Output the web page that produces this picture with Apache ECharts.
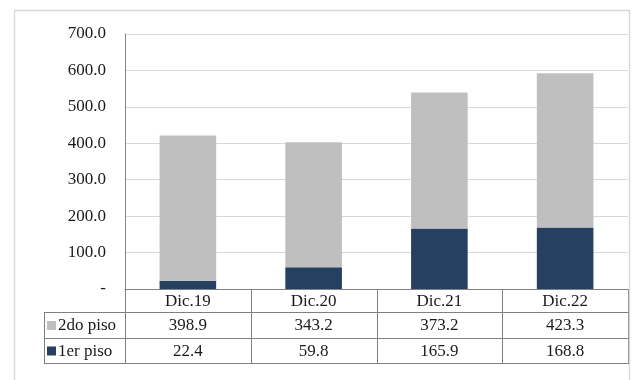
<!DOCTYPE html>
<html>
<head>
<meta charset="utf-8">
<script src="https://cdn.jsdelivr.net/npm/echarts@6/dist/echarts.min.js"></script>
<style>
  html, body { margin: 0; padding: 0; background: #fff; }
  #chart { width: 633px; height: 380px; }
</style>
</head>
<body>
<div id="chart"></div>
<script>
const categories = ['Dic.19', 'Dic.20', 'Dic.21', 'Dic.22']
const seriesNames = ['2do piso', '1er piso']
const segundoPiso = [398.9, 343.2, 373.2, 423.3]
const primerPiso = [22.4, 59.8, 165.9, 168.8]
const yMin = 0
const yMax = 700
const yStep = 100

const colors = { '2do piso': '#bfbfbf', '1er piso': '#254061' }
const tableRows = [
  { name: '2do piso', values: segundoPiso },
  { name: '1er piso', values: primerPiso }
]
const serifFont = 'Liberation Serif'

const chart = echarts.init(document.getElementById('chart'))

const option = {
  animation: false,
  textStyle: { fontFamily: serifFont },
  grid: { left: 125, right: 5, top: 34, bottom: 91, containLabel: false },
  xAxis: {
    type: 'category',
    data: categories,
    axisLine: { lineStyle: { color: '#808080', width: 1 } },
    axisTick: { show: false },
    axisLabel: { show: false }
  },
  yAxis: {
    type: 'value',
    min: yMin,
    max: yMax,
    interval: yStep,
    axisLine: { show: true, lineStyle: { color: '#868686', width: 1 } },
    axisTick: { show: false },
    splitLine: { lineStyle: { color: '#d9d9d9', width: 1 } },
    axisLabel: {
      margin: 19,
      fontFamily: serifFont,
      fontSize: 17,
      color: '#1a1a1a',
      formatter: v => (v === 0 ? '-' : v.toFixed(1))
    }
  },
  series: [
    {
      name: '1er piso',
      type: 'bar',
      stack: 'total',
      barWidth: '45%',
      data: primerPiso,
      itemStyle: { color: colors['1er piso'] }
    },
    {
      name: '2do piso',
      type: 'bar',
      stack: 'total',
      barWidth: '45%',
      data: segundoPiso,
      itemStyle: { color: colors['2do piso'] }
    }
  ]
}

chart.setOption(option)

// data table under the plot, placed from the axis positions
const buildTable = () => {
  const c0 = chart.convertToPixel({ xAxisIndex: 0 }, 0)
  const c1 = chart.convertToPixel({ xAxisIndex: 0 }, 1)
  const band = c1 - c0
  const left = c0 - band / 2
  const right = left + band * categories.length
  const top = Math.round(chart.convertToPixel({ yAxisIndex: 0 }, 0))
  const legendLeft = 44
  const rowBounds = [top, top + 23, top + 49, top + 74]
  const lineStyle = { stroke: '#808080', lineWidth: 1 }
  const els = []

  const hLine = (x1, x2, y) => els.push({
    type: 'line', silent: true,
    shape: { x1, y1: y + 0.5, x2, y2: y + 0.5 }, style: lineStyle
  })
  const vLine = (x, y1, y2) => els.push({
    type: 'line', silent: true,
    shape: { x1: Math.round(x) + 0.5, y1, x2: Math.round(x) + 0.5, y2 }, style: lineStyle
  })

  hLine(legendLeft, right, rowBounds[1])
  hLine(legendLeft, right, rowBounds[2])
  hLine(legendLeft, right, rowBounds[3])
  for (let i = 0; i <= categories.length; i++) {
    vLine(left + band * i, rowBounds[0], rowBounds[3] + 1)
  }
  vLine(legendLeft, rowBounds[1], rowBounds[3] + 1)

  const text = (str, x, y, align) => els.push({
    type: 'text', silent: true,
    x, y,
    style: {
      text: str,
      align: align || 'center', verticalAlign: 'middle',
      fontFamily: serifFont, fontSize: 17, fill: '#1a1a1a'
    }
  })

  categories.forEach((cat, i) => {
    text(cat, left + band * (i + 0.5), (rowBounds[0] + rowBounds[1]) / 2 + 1)
  })
  tableRows.forEach((row, r) => {
    const yMid = (rowBounds[r + 1] + rowBounds[r + 2]) / 2 + 1
    els.push({
      type: 'rect', silent: true,
      shape: { x: legendLeft + 3, y: yMid - 5, width: 9, height: 9 },
      style: { fill: colors[row.name] }
    })
    text(row.name, legendLeft + 14, yMid, 'left')
    row.values.forEach((v, i) => {
      text(v.toFixed(1), left + band * (i + 0.5), yMid)
    })
  })

  // outer chart border
  els.push({
    type: 'rect', silent: true,
    shape: { x: 14.5, y: 10.5, width: 615, height: 380 },
    style: { fill: 'none', stroke: '#d9d9d9', lineWidth: 1.5 }
  })

  chart.setOption({ graphic: { elements: els } })
}

buildTable()
</script>
</body>
</html>
